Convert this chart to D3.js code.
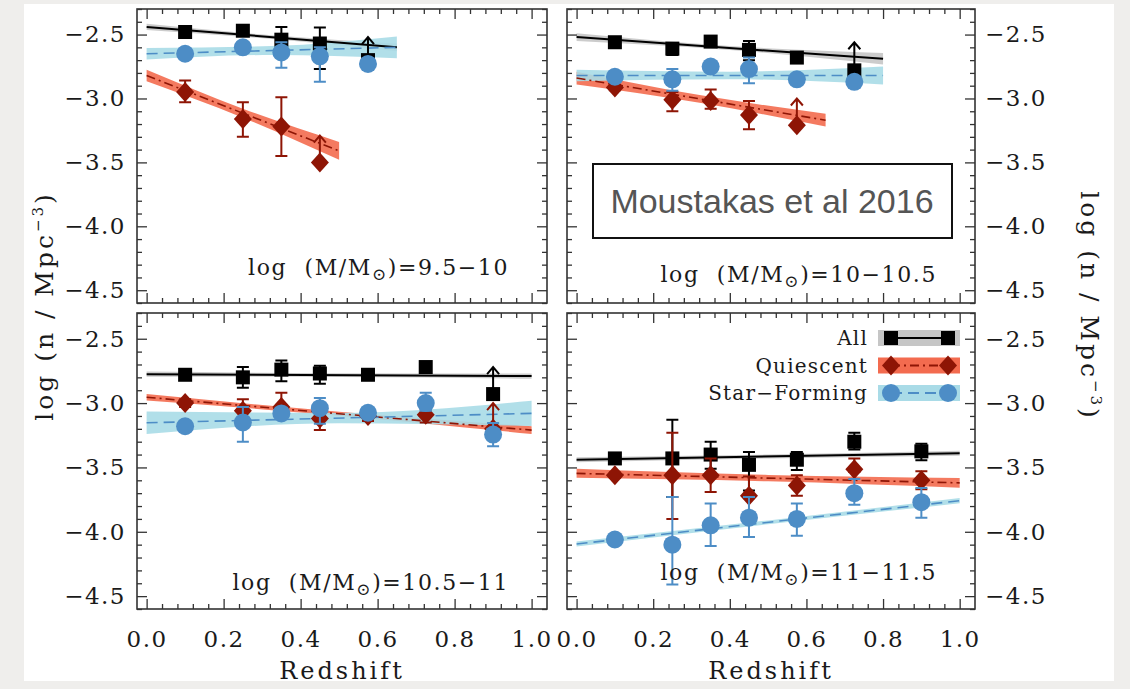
<!DOCTYPE html>
<html>
<head>
<meta charset="utf-8">
<script src="https://cdn.jsdelivr.net/npm/d3@7"></script>
<style>
  body { margin: 0; background: #efeeec; }
  svg { display: block; }
</style>
</head>
<body>
<script>
// redshift bins shared by every panel
const redshift = [0.1, 0.25, 0.35, 0.45, 0.575, 0.725, 0.9];
const massLabels = ["9.5\u221210", "10\u221210.5", "10.5\u221211", "11\u221211.5"];
const xTicks = [0, 0.2, 0.4, 0.6, 0.8, 1.0];
const yTicks = [-2.5, -3.0, -3.5, -4.0, -4.5];
const seriesNames = ["All", "Quiescent", "Star\u2212Forming"];

// All galaxies: value, upper err, lower err, lower-limit arrow tip (null = none)
const allN = [
  [-2.48, -2.47, -2.54, -2.57, -2.70, null, null],
  [-2.56, -2.61, -2.555, -2.62, -2.68, -2.78, null],
  [-2.78, -2.80, -2.74, -2.77, -2.78, -2.72, -2.93],
  [-3.43, -3.43, -3.40, -3.48, -3.44, -3.30, -3.375]
];
const allUp = [
  [0.02, 0.02, 0.10, 0.125, 0, 0, 0],
  [0.02, 0.03, 0.02, 0.07, 0.02, 0, 0],
  [0.02, 0.08, 0.07, 0.06, 0.02, 0.03, 0],
  [0.02, 0.30, 0.10, 0.10, 0.06, 0.07, 0.06]
];
const allDn = [
  [0.02, 0.02, 0.12, 0.20, 0, 0, 0],
  [0.02, 0.05, 0.02, 0.08, 0.02, 0, 0],
  [0.02, 0.08, 0.09, 0.08, 0.02, 0.03, 0],
  [0.02, 0.30, 0.11, 0.20, 0.08, 0.06, 0.07]
];
const allLim = [
  [null, null, null, null, -2.52, null, null],
  [null, null, null, null, null, -2.56, null],
  [null, null, null, null, null, null, -2.72],
  [null, null, null, null, null, null, null]
];

// Quiescent
const qN = [
  [-2.95, -3.16, -3.22, -3.50, null, null, null],
  [-2.915, -3.01, -3.02, -3.13, -3.21, null, null],
  [-3.00, -3.06, -3.03, -3.12, -3.10, -3.09, -3.20],
  [-3.56, -3.56, -3.56, -3.72, -3.64, -3.515, -3.60]
];
const qUp = [
  [0.09, 0.13, 0.23, 0, 0, 0, 0],
  [0.02, 0.06, 0.09, 0.11, 0, 0, 0],
  [0.03, 0.09, 0.11, 0.06, 0.03, 0.04, 0],
  [0.02, 0.33, 0.13, 0.15, 0.08, 0.085, 0.07]
];
const qDn = [
  [0.08, 0.14, 0.23, 0, 0, 0, 0],
  [0.02, 0.09, 0.06, 0.11, 0, 0, 0],
  [0.03, 0.06, 0.07, 0.09, 0.04, 0.06, 0],
  [0.02, 0.34, 0.13, 0.02, 0.08, 0.02, 0.07]
];
const qLim = [
  [null, null, null, -3.29, null, null, null],
  [null, null, null, null, -3.00, null, null],
  [null, null, null, null, null, null, -3.00],
  [null, null, null, null, null, null, null]
];

// Star-forming
const sfN = [
  [-2.65, -2.60, -2.64, -2.67, -2.73, null, null],
  [-2.83, -2.85, -2.75, -2.77, -2.85, -2.87, null],
  [-3.18, -3.15, -3.08, -3.04, -3.075, -3.00, -3.245],
  [-4.06, -4.10, -3.95, -3.89, -3.90, -3.70, -3.77]
];
const sfUp = [
  [0.02, 0.03, 0.08, 0.07, 0, 0, 0],
  [0.02, 0.08, 0.02, 0.09, 0.02, 0, 0],
  [0.02, 0.12, 0.04, 0.08, 0.02, 0.08, 0.09],
  [0.02, 0.37, 0.17, 0.16, 0.12, 0.11, 0.11]
];
const sfDn = [
  [0.02, 0.03, 0.12, 0.20, 0, 0, 0],
  [0.02, 0.09, 0.02, 0.11, 0.02, 0, 0],
  [0.02, 0.15, 0.04, 0.12, 0.02, 0.06, 0.09],
  [0.02, 0.31, 0.16, 0.15, 0.13, 0.09, 0.12]
];

// linear fits: [z start, z end], [value start, value end], band half-width [start, middle, end]
const allFitZ = [[0, 0.65], [0, 0.8], [0, 1.0], [0, 1.0]];
const allFitV = [[-2.44, -2.60], [-2.52, -2.69], [-2.775, -2.79], [-3.44, -3.39]];
const allBand = [[0.025, 0.015, 0.03], [0.03, 0.015, 0.045], [0.02, 0.015, 0.02], [0.02, 0.015, 0.02]];
const qFitZ = [[0, 0.5], [0, 0.65], [0, 1.0], [0, 1.0]];
const qFitV = [[-2.82, -3.41], [-2.84, -3.17], [-2.955, -3.21], [-3.546, -3.62]];
const qBand = [[0.045, 0.035, 0.07], [0.05, 0.03, 0.05], [0.025, 0.015, 0.03], [0.035, 0.025, 0.037]];
const sfFitZ = [[0, 0.65], [0, 0.8], [0, 1.0], [0, 1.0]];
const sfFitV = [[-2.65, -2.60], [-2.82, -2.82], [-3.153, -3.08], [-4.095, -3.758]];
const sfBand = [[0.045, 0.035, 0.085], [0.045, 0.03, 0.07], [0.088, 0.04, 0.098], [0.02, 0.015, 0.02]];

const SERIF = "'DejaVu Serif', serif";
const col = {
  all: "#000000", allBand: "#c6c6c6",
  q: "#8e1505", qBand: "#f36b4f",
  sf: "#4d8dc6", sfBand: "#a9dbe7"
};

const svg = d3.select("body").append("svg").attr("width", 1130).attr("height", 689);
svg.append("rect").attr("x", 24).attr("y", 4).attr("width", 1090).attr("height", 677).attr("fill", "#fff");

const panels = [
  {x: 137, y: 9, w: 410, h: 294},
  {x: 567, y: 9, w: 408, h: 294},
  {x: 137, y: 313, w: 410, h: 296},
  {x: 567, y: 313, w: 408, h: 296}
];

function drawMarker(g, kind, cx, cy, color) {
  if (kind === "all") {
    g.append("rect").attr("x", cx - 7).attr("y", cy - 7).attr("width", 14).attr("height", 14).attr("fill", color);
  } else if (kind === "q") {
    g.append("path").attr("d", `M${cx},${cy - 10}L${cx + 9},${cy}L${cx},${cy + 10}L${cx - 9},${cy}Z`).attr("fill", color);
  } else {
    g.append("circle").attr("cx", cx).attr("cy", cy).attr("r", 9).attr("fill", color);
  }
}

panels.forEach((p, i) => {
  const g = svg.append("g").attr("transform", `translate(${p.x},${p.y})`);
  const x = d3.scaleLinear().domain([-0.025, 1.04]).range([0, p.w]);
  const y = d3.scaleLinear().domain([-4.6, -2.3]).range([p.h, 0]);

  g.append("clipPath").attr("id", "clip" + i).append("rect").attr("width", p.w).attr("height", p.h);
  const plot = g.append("g").attr("clip-path", `url(#clip${i})`);

  const series = [
    {kind: "all", fz: allFitZ[i], fv: allFitV[i], bw: allBand[i], band: col.allBand, line: col.all, dash: null, width: 2,
     v: allN[i], up: allUp[i], dn: allDn[i], lim: allLim[i], color: col.all},
    {kind: "q", fz: qFitZ[i], fv: qFitV[i], bw: qBand[i], band: col.qBand, line: col.q, dash: "9,4,2,4", width: 1.6,
     v: qN[i], up: qUp[i], dn: qDn[i], lim: qLim[i], color: col.q},
    {kind: "sf", fz: sfFitZ[i], fv: sfFitV[i], bw: sfBand[i], band: col.sfBand, line: col.sf, dash: "11,6", width: 1.6,
     v: sfN[i], up: sfUp[i], dn: sfDn[i], lim: null, color: col.sf}
  ];

  const area = d3.area()
    .x(d => x(d[0])).y0(d => y(d[1] - d[2])).y1(d => y(d[1] + d[2]))
    .curve(d3.curveMonotoneX);

  // confidence bands
  series.forEach(s => {
    const pts = [
      [s.fz[0], s.fv[0], s.bw[0]],
      [(s.fz[0] + s.fz[1]) / 2, (s.fv[0] + s.fv[1]) / 2, s.bw[1]],
      [s.fz[1], s.fv[1], s.bw[2]]
    ];
    plot.append("path").attr("d", area(pts)).attr("fill", s.band).attr("opacity", 0.9);
  });
  // fit lines
  series.forEach(s => {
    plot.append("line")
      .attr("x1", x(s.fz[0])).attr("y1", y(s.fv[0]))
      .attr("x2", x(s.fz[1])).attr("y2", y(s.fv[1]))
      .attr("stroke", s.line).attr("stroke-width", s.width)
      .attr("stroke-dasharray", s.dash);
  });
  // points, error bars and lower limits
  series.forEach(s => {
    s.v.forEach((v, k) => {
      if (v === null) return;
      const cx = x(redshift[k]);
      if (s.up[k] > 0 || s.dn[k] > 0) {
        const y1 = y(v + s.up[k]), y2 = y(v - s.dn[k]);
        plot.append("path")
          .attr("d", `M${cx},${y1}V${y2}M${cx - 6},${y1}H${cx + 6}M${cx - 6},${y2}H${cx + 6}`)
          .attr("stroke", s.color).attr("stroke-width", 2).attr("fill", "none");
      }
      if (s.lim && s.lim[k] !== null) {
        const ty = y(s.lim[k]);
        plot.append("path")
          .attr("d", `M${cx},${y(v)}V${ty}M${cx - 6},${ty + 7}L${cx},${ty}L${cx + 6},${ty + 7}`)
          .attr("stroke", s.color).attr("stroke-width", 2).attr("fill", "none");
      }
      drawMarker(plot, s.kind, cx, y(v), s.color);
    });
  });

  // frame
  g.append("rect").attr("width", p.w).attr("height", p.h)
    .attr("fill", "none").attr("stroke", "#333").attr("stroke-width", 1.6);

  // ticks on all sides, pointing inward
  const xMinor = d3.range(0, 26).map(k => k * 0.04).filter(t => xTicks.every(m => Math.abs(m - t) > 1e-6));
  const yMinor = d3.range(-46, -22).map(k => k / 10).filter(t => yTicks.every(m => Math.abs(m - t) > 1e-6));
  const tickStyle = sel => {
    sel.select(".domain").remove();
    sel.selectAll(".tick line").attr("stroke", "#333").attr("stroke-width", 1.3);
    sel.selectAll(".tick text").attr("font-family", SERIF).attr("font-size", 23)
      .attr("fill", "#1a1a1a").attr("letter-spacing", "1.5px");
  };
  const bottomRow = i >= 2;
  g.append("g").attr("transform", `translate(0,${p.h})`)
    .call(d3.axisBottom(x).tickValues(xMinor).tickSize(-5).tickFormat("")).call(tickStyle);
  g.append("g").attr("transform", `translate(0,${p.h})`)
    .call(d3.axisBottom(x).tickValues(xTicks).tickSize(-10).tickPadding(22)
      .tickFormat(bottomRow ? d3.format(".1f") : "")).call(tickStyle);
  g.append("g").call(d3.axisTop(x).tickValues(xMinor).tickSize(-5).tickFormat("")).call(tickStyle);
  g.append("g").call(d3.axisTop(x).tickValues(xTicks).tickSize(-10).tickFormat("")).call(tickStyle);

  const leftCol = i % 2 === 0;
  g.append("g").call(d3.axisLeft(y).tickValues(yMinor).tickSize(-5).tickFormat("")).call(tickStyle);
  g.append("g").call(d3.axisLeft(y).tickValues(yTicks).tickSize(-10).tickPadding(11)
    .tickFormat(leftCol ? d3.format(".1f") : "")).call(tickStyle);
  g.append("g").attr("transform", `translate(${p.w},0)`)
    .call(d3.axisRight(y).tickValues(yMinor).tickSize(-5).tickFormat("")).call(tickStyle);
  g.append("g").attr("transform", `translate(${p.w},0)`)
    .call(d3.axisRight(y).tickValues(yTicks).tickSize(-10).tickPadding(10)
      .tickFormat(leftCol ? "" : d3.format(".1f"))).call(tickStyle);

  // mass bin label
  const lbl = g.append("text")
    .attr("x", p.w - 38).attr("y", [266, 273, 277, 267][i])
    .attr("text-anchor", "end").attr("font-family", SERIF).attr("font-size", 22)
    .attr("letter-spacing", "1.6px").attr("fill", "#1a1a1a");
  lbl.append("tspan").text("log\u00a0\u00a0(M/M");
  lbl.append("tspan").attr("font-size", 17).attr("dy", 5).text("\u2299");
  lbl.append("tspan").attr("dy", -5).text(")=" + massLabels[i]);

  if (bottomRow) {
    g.append("text").attr("x", p.w / 2).attr("y", p.h + 70)
      .attr("text-anchor", "middle").attr("font-family", SERIF).attr("font-size", 24)
      .attr("letter-spacing", "3px").attr("fill", "#1a1a1a").text("Redshift");
  }

  // legend in the last panel
  if (i === 3) {
    const kinds = ["all", "q", "sf"];
    const bands = [col.allBand, col.qBand, col.sfBand];
    const lines = [col.all, col.q, col.sf];
    const dashes = [null, "9,4,2,4", "11,6"];
    const marks = [col.all, col.q, col.sf];
    seriesNames.forEach((name, k) => {
      const cy = 25 + k * 27.5;
      g.append("text").attr("x", 301).attr("y", cy).attr("dy", "0.35em")
        .attr("text-anchor", "end").attr("font-family", SERIF).attr("font-size", 20)
        .attr("letter-spacing", "1.2px").attr("fill", "#1a1a1a").text(name);
      g.append("rect").attr("x", 311).attr("y", cy - 8).attr("width", 82).attr("height", 16).attr("fill", bands[k]);
      g.append("line").attr("x1", 324).attr("x2", 381).attr("y1", cy).attr("y2", cy)
        .attr("stroke", lines[k]).attr("stroke-width", 2).attr("stroke-dasharray", dashes[k]);
      drawMarker(g, kinds[k], 324, cy, marks[k]);
      drawMarker(g, kinds[k], 381, cy, marks[k]);
    });
  }
});

// citation box
svg.append("rect").attr("x", 593).attr("y", 164).attr("width", 359).attr("height", 74)
  .attr("fill", "#fff").attr("stroke", "#111").attr("stroke-width", 2);
svg.append("text").attr("x", 772).attr("y", 201).attr("dy", "0.35em").attr("text-anchor", "middle")
  .attr("font-family", "'Liberation Sans', Arial, sans-serif").attr("font-size", 34)
  .attr("fill", "#555").text("Moustakas et al 2016");

// y axis titles
function yTitle(xPos, rot) {
  const t = svg.append("text").attr("transform", `translate(${xPos},306) rotate(${rot})`)
    .attr("text-anchor", "middle").attr("dy", "0.35em")
    .attr("font-family", SERIF).attr("font-size", 25).attr("letter-spacing", "3px").attr("fill", "#1a1a1a");
  t.append("tspan").text("log (n / Mpc");
  t.append("tspan").attr("font-size", 15).attr("dy", -10).text("\u22123");
  t.append("tspan").attr("dy", 10).text(")");
}
yTitle(44, -90);
yTitle(1090, 90);
</script>
</body>
</html>
